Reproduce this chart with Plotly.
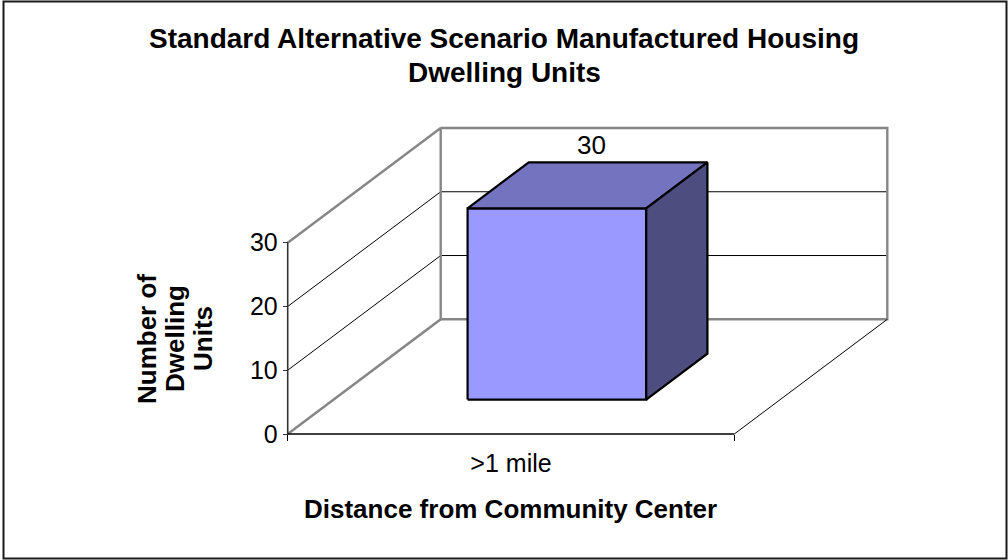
import plotly.graph_objects as go

# ---- chart data -------------------------------------------------------
categories = [">1 mile"]
dwelling_units = [30]
value_ticks = [0, 10, 20, 30]
value_max = 30

title_lines = ["Standard Alternative Scenario Manufactured Housing", "Dwelling Units"]
x_title = "Distance from Community Center"
y_title_lines = ["Number of", "Dwelling", "Units"]

# ---- page / projection set-up -----------------------------------------
W, H = 1008, 560
ORIGIN_PX = (287.7, 434.0)      # front-left corner of the floor
CAT_PX = 446.6                  # length of one category along the front edge
VAL_PX = 6.377                  # pixels per dwelling unit
DEPTH_PX = (153.0, 114.7)       # oblique offset from front to back wall

x_range = [-ORIGIN_PX[0] / CAT_PX, (W - ORIGIN_PX[0]) / CAT_PX]
y_range = [-(H - ORIGIN_PX[1]) / VAL_PX, ORIGIN_PX[1] / VAL_PX]
DX = DEPTH_PX[0] / CAT_PX       # depth shift in category units
DY = DEPTH_PX[1] / VAL_PX       # depth shift in value units

BAR_WIDTH = 0.4                 # share of a category slot
BAR_DEPTH = (0.3, 0.7)          # front / back of the bar within the depth
FONT = "Arial, 'Liberation Sans', sans-serif"

WALL_GREY = "#868686"
FRONT_COLOR = "#9999FF"
TOP_COLOR = "#7373C0"
SIDE_COLOR = "#4D4D80"


def proj(x, v, d):
    """Oblique projection of (category pos, value, depth) onto the axes."""
    return x + d * DX, v + d * DY


def path(points):
    xs, ys = zip(*[proj(*p) for p in points])
    return list(xs), list(ys)


fig = go.Figure()


def add_line(points, color, width):
    xs, ys = path(points)
    fig.add_trace(go.Scatter(x=xs, y=ys, mode="lines",
                             line=dict(color=color, width=width),
                             hoverinfo="skip", showlegend=False))


def add_face(points, fill):
    xs, ys = path(points + [points[0]])
    fig.add_trace(go.Scatter(x=xs, y=ys, mode="lines", fill="toself",
                             fillcolor=fill,
                             line=dict(color="black", width=2.2),
                             hoverinfo="skip", showlegend=False))


n_cat = len(categories)
top = value_max

# gridlines on side and back walls
for v in value_ticks[1:-1]:
    add_line([(0, v, 0), (0, v, 1), (n_cat, v, 1)], "black", 1)

# wall outlines
add_line([(0, 0, 0), (0, 0, 1), (0, top, 1), (0, top, 0)], WALL_GREY, 2.4)
add_line([(0, 0, 1), (n_cat, 0, 1), (n_cat, top, 1), (0, top, 1)], WALL_GREY, 2.4)

# floor edges
add_line([(0, 0, 0), (n_cat, 0, 0)], "black", 1.4)
add_line([(n_cat, 0, 0), (n_cat, 0, 1)], "black", 1)

# front value axis
add_line([(0, 0, 0), (0, top, 0)], "#333333", 1.6)

# bars
d0, d1 = BAR_DEPTH
for i, val in enumerate(dwelling_units):
    x0 = i + (1 - BAR_WIDTH) / 2
    x1 = x0 + BAR_WIDTH
    add_face([(x0, 0, d0), (x1, 0, d0), (x1, val, d0), (x0, val, d0)], FRONT_COLOR)
    add_face([(x0, val, d0), (x1, val, d0), (x1, val, d1), (x0, val, d1)], TOP_COLOR)
    add_face([(x1, 0, d0), (x1, 0, d1), (x1, val, d1), (x1, val, d0)], SIDE_COLOR)
    lx, _ = proj((x0 + x1) / 2, val, 0.5)
    _, ly = proj((x0 + x1) / 2, val, d1)
    fig.add_annotation(x=lx, y=ly, xref="x", yref="y", text=str(val),
                       showarrow=False, yanchor="bottom", xshift=4, yshift=0,
                       font=dict(family=FONT, size=26, color="black"))

# ---- text -------------------------------------------------------------
def px_x(p):
    return p / W


def px_y(p):
    return 1 - p / H


title_centres = [39, 72]
for line, cy in zip(title_lines, title_centres):
    fig.add_annotation(x=px_x(504), y=px_y(cy), xref="paper", yref="paper",
                       text=f"<b>{line}</b>", showarrow=False,
                       xanchor="center", yanchor="middle",
                       font=dict(family=FONT, size=28, color="black"))

y_title_centres = [147, 175, 203]
for line, cx in zip(y_title_lines, y_title_centres):
    fig.add_annotation(x=px_x(cx), y=px_y(339), xref="paper", yref="paper",
                       text=f"<b>{line}</b>", showarrow=False, textangle=-90,
                       xanchor="center", yanchor="middle",
                       font=dict(family=FONT, size=26, color="black"))

fig.add_annotation(x=px_x(510), y=px_y(509), xref="paper", yref="paper",
                   text=f"<b>{x_title}</b>", showarrow=False,
                   xanchor="center", yanchor="middle",
                   font=dict(family=FONT, size=26, color="black"))

# chart-area border
fig.add_shape(type="rect", xref="paper", yref="paper",
              x0=px_x(3.5), x1=px_x(1006.5), y0=px_y(558.5), y1=px_y(1.5),
              line=dict(color="#1a1a1a", width=2), fillcolor="rgba(0,0,0,0)")

fig.update_layout(
    width=W, height=H,
    margin=dict(l=0, r=0, t=0, b=0),
    paper_bgcolor="white", plot_bgcolor="white",
    showlegend=False,
    xaxis=dict(range=x_range, domain=[0, 1], anchor="free",
               position=px_y(ORIGIN_PX[1]),
               tickmode="array",
               tickvals=[i + 0.5 for i in range(n_cat)], ticktext=categories,
               ticks="", showgrid=False, zeroline=False, showline=False,
               tickfont=dict(family=FONT, size=25, color="black"),
               ticklabelstandoff=12,
               minor=dict(tickmode="array", tickvals=list(range(n_cat + 1)),
                          ticks="outside", ticklen=6, tickwidth=1.4,
                          tickcolor="black", showgrid=False),
               fixedrange=True),
    yaxis=dict(range=y_range, domain=[0, 1], anchor="free",
               position=px_x(ORIGIN_PX[0]),
               tickmode="array", tickvals=value_ticks,
               ticktext=[str(v) for v in value_ticks],
               ticks="outside", ticklen=5, tickwidth=1.4, tickcolor="#333333",
               showgrid=False, zeroline=False, showline=False,
               tickfont=dict(family=FONT, size=25, color="black"),
               fixedrange=True),
)

fig.write_html("out.html")
